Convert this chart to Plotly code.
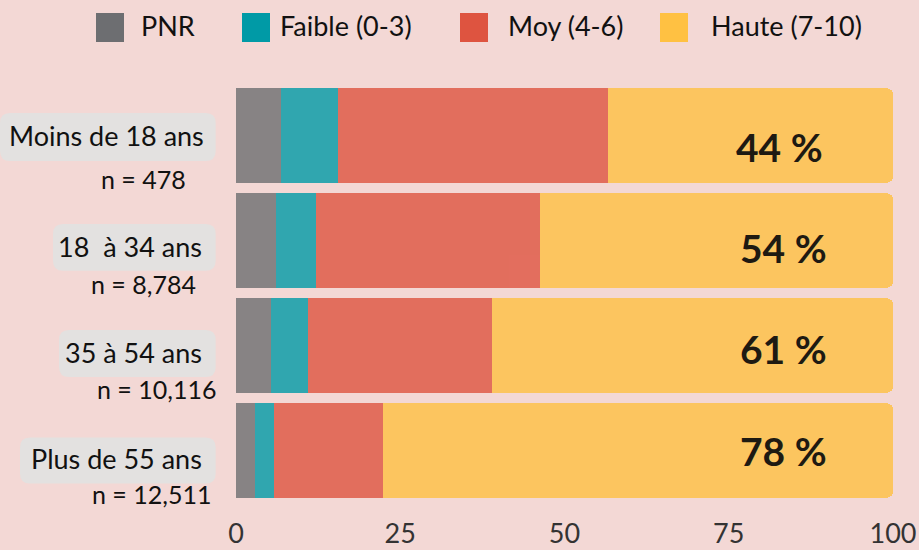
import plotly.graph_objects as go

# ---------------- data ----------------
categories = ["Moins de 18 ans", "18  à 34 ans", "35 à 54 ans", "Plus de 55 ans"]
n_labels = ["n = 478", "n = 8,784", "n = 10,116", "n = 12,511"]
series_names = ["PNR", "Faible (0-3)", "Moy (4-6)", "Haute (7-10)"]
pnr = [6.9, 6.1, 5.4, 2.9]
faible = [8.6, 6.1, 5.5, 2.9]
moy = [41.1, 34.0, 28.1, 16.6]
haute = [43.4, 53.8, 61.0, 77.6]
haute_labels = ["44 %", "54 %", "61 %", "78 %"]
x_ticks = [0, 25, 50, 75, 100]

# ---------------- style ----------------
W, H = 919, 550
ML, MR, MT, MB = 236, 26, 83, 47
PW, PH = W - ML - MR, H - MT - MB
BG = "#f3d8d5"
FONT = "Lato"
colors = ["#6d6e71", "#009aa6", "#de5440", "#ffc142"]

def px2paper_x(px):
    return (px - ML) / PW

def px2paper_y(py):
    return (H - MB - py) / PH

fig = go.Figure()
for name, vals, col in zip(series_names, [pnr, faible, moy, haute], colors):
    fig.add_trace(go.Bar(
        y=categories, x=vals, name=name, orientation="h",
        marker=dict(color=col, line=dict(width=0)), opacity=0.8,
        showlegend=False, hoverinfo="x+name",
    ))

shapes = []
annotations = []

# label boxes (rounded) : left px, top/bottom offset from bar centre (px, downwards)
box_left = [0, 53, 59, 20]
box_top = [-22.5, -16.5, -15.5, -13]
box_bot = [25.5, 30.2, 31.5, 33]
box_right = 215.7
r = 10
for cat, bl, bt, bb in zip(categories, box_left, box_top, box_bot):
    x0, x1 = bl - ML, box_right - ML
    y0, y1 = -bt, -bb  # pixel mode: y up-positive
    path = (f"M{x0+r},{y0} L{x1-r},{y0} Q{x1},{y0} {x1},{y0-r} "
            f"L{x1},{y1+r} Q{x1},{y1} {x1-r},{y1} L{x0+r},{y1} "
            f"Q{x0},{y1} {x0},{y1+r} L{x0},{y0-r} Q{x0},{y0} {x0+r},{y0} Z")
    shapes.append(dict(type="path", xref="paper", yref="y", xsizemode="pixel",
                       ysizemode="pixel", xanchor=0, yanchor=cat, path=path,
                       fillcolor="#e3e1e0", line=dict(width=0), layer="below"))

label_shift = [0, -6, -7, -8]
label_xshift = [-30, -32, -32, -32]
for cat, ys, xs in zip(categories, label_shift, label_xshift):
    annotations.append(dict(text=cat, xref="paper", x=0, xshift=xs, xanchor="right",
                            yref="y", y=cat, yshift=ys, yanchor="middle", showarrow=False,
                            font=dict(family=FONT, size=27, color="#111111")))

n_right = [188, 198, 218, 213]
for cat, nl, nr in zip(categories, n_labels, n_right):
    annotations.append(dict(text=nl, xref="paper", x=0, xshift=nr - ML, xanchor="right",
                            yref="y", y=cat, yshift=-43, yanchor="middle", showarrow=False,
                            font=dict(family=FONT, size=25, color="#111111")))

pct_shift = [-11, -7, -3.5, 0]
pct_xshift = [-4, 0, 0, 0]
for cat, lab, ys, xs in zip(categories, haute_labels, pct_shift, pct_xshift):
    annotations.append(dict(text=f"<b>{lab}</b>", xref="x", x=83.3, xshift=xs, xanchor="center",
                            yref="y", y=cat, yshift=ys, yanchor="middle", showarrow=False,
                            font=dict(family=FONT, size=39, color="#1e1a12")))

# manual legend
sq_left = [96, 242, 460, 660]
txt_left = [139, 278, 506, 709]
for name, col, sl, tl in zip(series_names, colors, sq_left, txt_left):
    shapes.append(dict(type="rect", xref="paper", yref="paper",
                       x0=px2paper_x(sl), x1=px2paper_x(sl + 28),
                       y0=px2paper_y(42), y1=px2paper_y(13),
                       fillcolor=col, line=dict(width=0)))
    annotations.append(dict(text=name, xref="paper", yref="paper",
                            x=px2paper_x(tl), y=px2paper_y(25), xanchor="left",
                            yanchor="middle", showarrow=False,
                            font=dict(family=FONT, size=27, color="#111111")))

fig.update_layout(
    width=W, height=H, autosize=False,
    margin=dict(l=ML, r=MR, t=MT, b=MB, pad=0, autoexpand=False),
    paper_bgcolor=BG, plot_bgcolor=BG,
    barmode="stack", bargap=0.1, barcornerradius=6,
    showlegend=False,
    shapes=shapes, annotations=annotations,
    font=dict(family=FONT),
    xaxis=dict(range=[0, 100], tickvals=x_ticks, showgrid=False, zeroline=False,
               showline=False, ticks="", automargin=False, ticklabelstandoff=12,
               tickfont=dict(family=FONT, size=27, color="#333333"),
               fixedrange=True),
    yaxis=dict(categoryorder="array", categoryarray=categories, range=[3.5, -0.5],
               showticklabels=False, showgrid=False, zeroline=False, showline=False,
               ticks="", automargin=False, fixedrange=True),
)

fig.write_html("out.html", config={"displayModeBar": False, "responsive": False},
               post_script="document.body.style.margin='0';document.body.style.overflow='hidden';document.body.style.background='" + BG + "';")
